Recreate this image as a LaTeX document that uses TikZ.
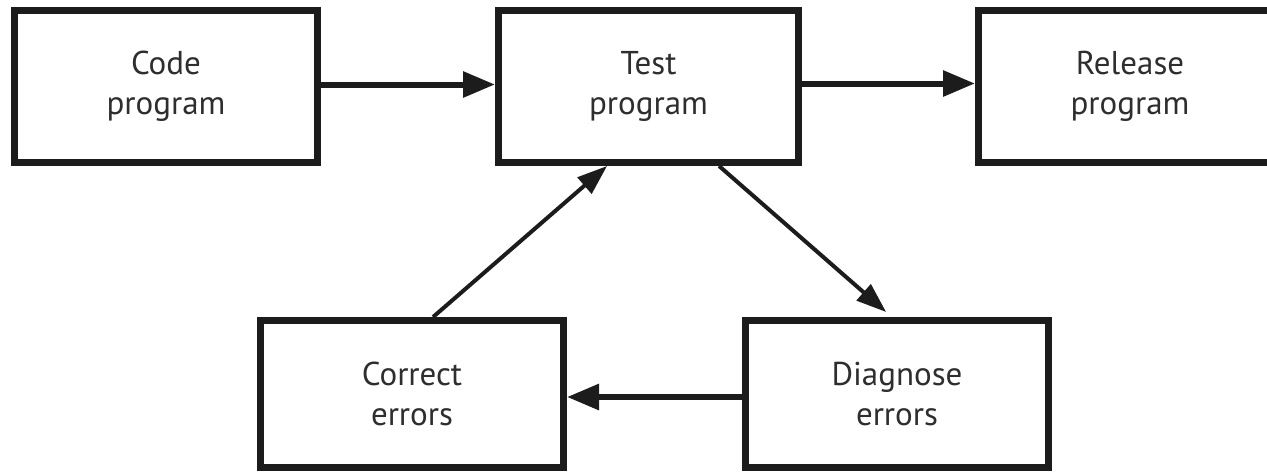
\documentclass[tikz,border=0pt]{standalone}
\usepackage{fontspec}
\setmainfont{PT Sans}
\usetikzlibrary{arrows.meta,calc}
\definecolor{ink}{HTML}{1C1C1C}
\definecolor{txt}{HTML}{2E2E2E}
\begin{document}
\begin{tikzpicture}[x=1pt,y=-1pt,
  stagebox/.style={draw=ink,line width=7pt,fill=white,inner sep=0pt,
    minimum width=303pt,align=center,text=txt,
    font=\fontsize{33}{40}\selectfont},
  toprow/.style={stagebox,minimum height=152pt},
  botrow/.style={stagebox,minimum height=147pt},
  flow/.style={draw=ink,line width=6pt,-{Triangle[length=32pt,width=25pt]}},
  loop/.style={draw=ink,line width=4pt,-{Triangle[length=30pt,width=21pt]}}]
\useasboundingbox (0,0) rectangle (1267,472);
% upper row: main path of the program
\node[toprow] (code) at (166,86.5) {Code\\program};
\node[toprow,minimum width=300pt] (test) at (648.5,86.5) {Test\\program};
\node[toprow] (release) at (1130,86.5) {Release\\program};
% lower row: the error loop
\node[botrow] (correct) at (412,394) {Correct\\errors};
\node[botrow] (diagnose) at (897,394) {Diagnose\\errors};
% connectors
\draw[flow] ($(code.east)+(0,-2)$) -- ($(test.west)+(0,-2)$);
\draw[flow] ($(test.east)+(0,-3)$) -- ($(release.west)+(0,-3)$);
\draw[flow] ($(diagnose.west)+(0,3)$) -- ($(correct.east)+(0,3)$);
\draw[loop] ($(test.south west)!0.73!(test.south east)$)
  -- ($(diagnose.north west)!0.465!(diagnose.north east)+(0,-5)$);
\draw[loop] ($(correct.north west)!0.568!(correct.north east)$)
  -- ($(test.south west)!0.365!(test.south east)$);
\end{tikzpicture}
\end{document}
